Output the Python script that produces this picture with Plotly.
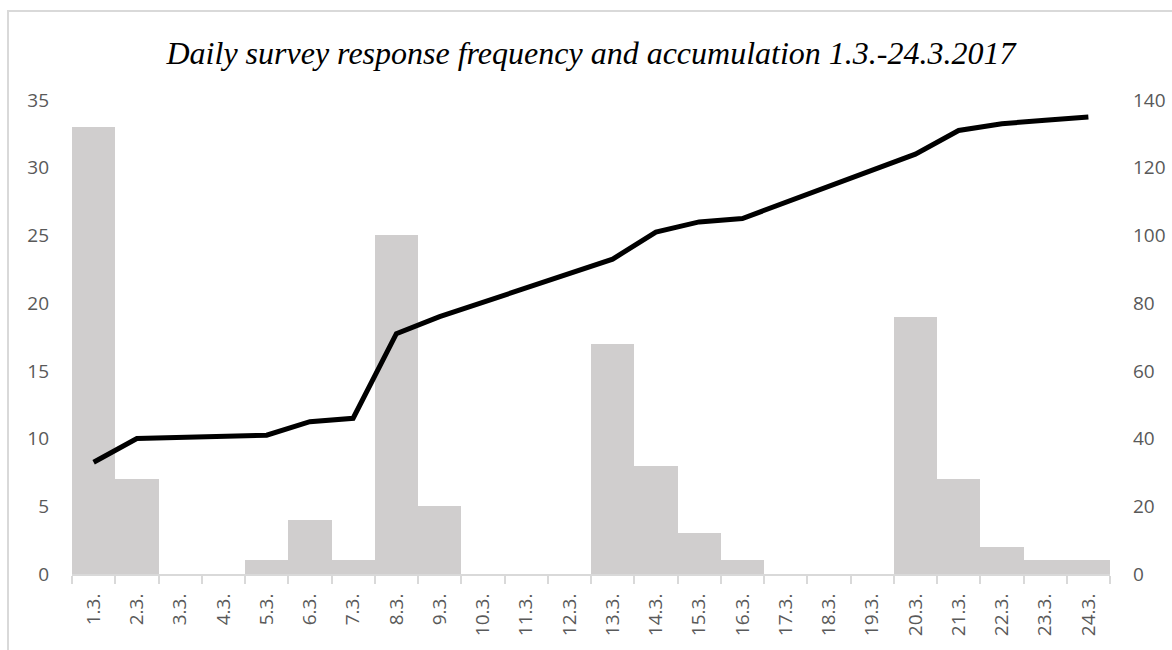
import plotly.graph_objects as go

# Daily responses, 1.3.-24.3.2017
days = ["1.3.", "2.3.", "3.3.", "4.3.", "5.3.", "6.3.", "7.3.", "8.3.", "9.3.", "10.3.",
        "11.3.", "12.3.", "13.3.", "14.3.", "15.3.", "16.3.", "17.3.", "18.3.", "19.3.",
        "20.3.", "21.3.", "22.3.", "23.3.", "24.3."]
daily = [33, 7, 0, 0, 1, 4, 1, 25, 5, 0, 0, 0, 17, 8, 3, 1, 0, 0, 0, 19, 7, 2, 1, 1]
# Running total, only recorded on days with responses
cumulative = [33, 40, None, None, 41, 45, 46, 71, 76, None, None, None, 93, 101, 104, 105,
              None, None, None, 124, 131, 133, 134, 135]

tick_font = dict(family="Open Sans, Liberation Sans, sans-serif", size=19, color="#595959")

fig = go.Figure()
fig.add_trace(go.Bar(x=days, y=daily, marker=dict(color="#d0cece", line=dict(width=0)),
                     name="Daily"))
fig.add_trace(go.Scatter(x=days, y=cumulative, yaxis="y2", mode="lines", connectgaps=True,
                         line=dict(color="#000000", width=5), name="Cumulative"))

fig.update_layout(
    width=1172, height=650,
    margin=dict(l=72, r=62, t=100, b=76),
    paper_bgcolor="white", plot_bgcolor="white",
    showlegend=False, bargap=0,
    title=dict(text="<i>Daily survey response frequency and accumulation 1.3.-24.3.2017</i>",
               x=0.5, xref="paper", xanchor="center", y=1 - 53 / 650, yref="container",
               yanchor="middle",
               font=dict(family="Liberation Serif, Times New Roman, serif", size=32, color="#000000")),
    xaxis=dict(type="category", tickangle=-90, tickfont=tick_font, showgrid=False,
               showline=True, linecolor="#d9d9d9", linewidth=2, automargin=False,
               ticks="outside", tickson="boundaries", ticklen=8, tickcolor="#d9d9d9", tickwidth=2,
               ticklabelstandoff=10),
    yaxis=dict(range=[0, 35], dtick=5, tickfont=tick_font, showgrid=False, zeroline=False,
               showline=False, ticks="", ticklabelstandoff=22, automargin=False),
    yaxis2=dict(range=[0, 140], dtick=20, tickfont=tick_font, showgrid=False, zeroline=False,
                overlaying="y", side="right", showline=False, ticks="", ticklabelstandoff=22,
                automargin=False),
    shapes=[dict(type="rect", xref="paper", yref="paper",
                 x0=-64 / 1038, x1=1140 / 1038, y0=-0.2, y1=1 + 89 / 474,
                 line=dict(color="#d9d9d9", width=2), fillcolor="rgba(0,0,0,0)", layer="below")],
)

fig.write_html("out.html")
